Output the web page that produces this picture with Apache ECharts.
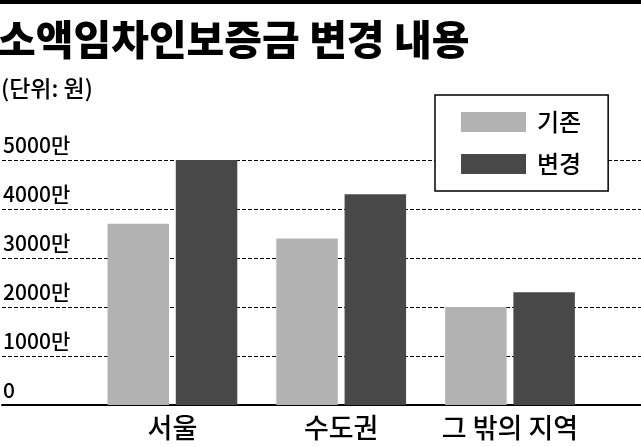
<!DOCTYPE html>
<html><head><meta charset="utf-8">
<script src="https://cdn.jsdelivr.net/npm/echarts@6/dist/echarts.min.js"></script>
<style>html,body{margin:0;padding:0;background:#fff}#c{width:641px;height:447px}</style>
</head><body><div id="c"></div>
<script>
const titleText = '소액임차인보증금 변경 내용';
const unitText = '(단위: 원)';
const categories = ['서울', '수도권', '그 밖의 지역'];
const seriesNames = ['기존', '변경'];
const beforeValues = [3700, 3400, 2000];
const afterValues = [5000, 4300, 2300];
const yTickValues = [0, 1000, 2000, 3000, 4000, 5000];
const yTickLabels = ['0', '1000만', '2000만', '3000만', '4000만', '5000만'];

const KR = "'Noto Sans CJK KR', sans-serif";
const NUM = "'Liberation Sans Narrow', 'Noto Sans CJK KR', sans-serif";
const chart = echarts.init(document.getElementById('c'), null, {renderer: 'canvas'});
chart.setOption({
  animation: false,
  backgroundColor: '#fff',
  graphic: [{type: 'rect', left: 0, top: 0, shape: {width: 641, height: 4}, style: {fill: '#000'}}],
  title: [
    {text: titleText, left: -2, top: 19, padding: 0,
     textStyle: {fontFamily: KR, fontSize: 41, fontWeight: 900, color: '#000'}},
    {text: unitText, left: 1, top: 77, padding: 0,
     textStyle: {fontFamily: KR, fontSize: 23, fontWeight: 500, color: '#000'}}
  ],
  legend: {
    data: seriesNames, orient: 'vertical', left: 435, top: 95,
    itemWidth: 65, itemHeight: 20, itemGap: 18,
    padding: [15, 27, 15, 26],
    borderColor: '#000', borderWidth: 1.5, backgroundColor: '#fff',
    icon: 'rect',
    textStyle: {fontFamily: KR, fontSize: 24, fontWeight: 500, color: '#000', padding: [0, 0, 0, 6]}
  },
  grid: [
    {left: 0, right: 0, top: 160, bottom: 42},
    {left: 88, right: 46.6, top: 160, bottom: 42}
  ],
  xAxis: [
    {gridIndex: 0, type: 'category', data: [''],
     axisLine: {show: true, lineStyle: {color: '#000', width: 2}},
     axisTick: {show: false}, axisLabel: {show: false}},
    {gridIndex: 1, type: 'category', data: categories,
     axisLine: {show: false}, axisTick: {show: false},
     axisLabel: {interval: 0, fontFamily: KR, fontSize: 27, fontWeight: 500, color: '#000', margin: 9}}
  ],
  yAxis: [
    {gridIndex: 0, type: 'value', min: 0, max: 5000, interval: 1000,
     axisLine: {show: false}, axisTick: {show: false},
     axisLabel: {inside: true, margin: 1, verticalAlign: 'bottom', align: 'left',
       padding: [0, 0, 4, 0],
       fontFamily: NUM, fontSize: 21, fontWeight: 500, color: '#000',
       formatter: v => yTickLabels[yTickValues.indexOf(v)]},
     splitLine: {show: true, lineStyle: {color: '#000', width: 1, type: [4, 2]}}},
    {gridIndex: 1, type: 'value', min: 0, max: 5000, interval: 1000, show: false,
     splitLine: {show: false}}
  ],
  series: [
    {name: seriesNames[0], type: 'bar', xAxisIndex: 1, yAxisIndex: 1, data: beforeValues,
     barWidth: 61.5, barGap: '11%', itemStyle: {color: '#b2b2b2'}},
    {name: seriesNames[1], type: 'bar', xAxisIndex: 1, yAxisIndex: 1, data: afterValues,
     barWidth: 61.5, barGap: '11%', itemStyle: {color: '#484848'}}
  ]
});
</script></body></html>
